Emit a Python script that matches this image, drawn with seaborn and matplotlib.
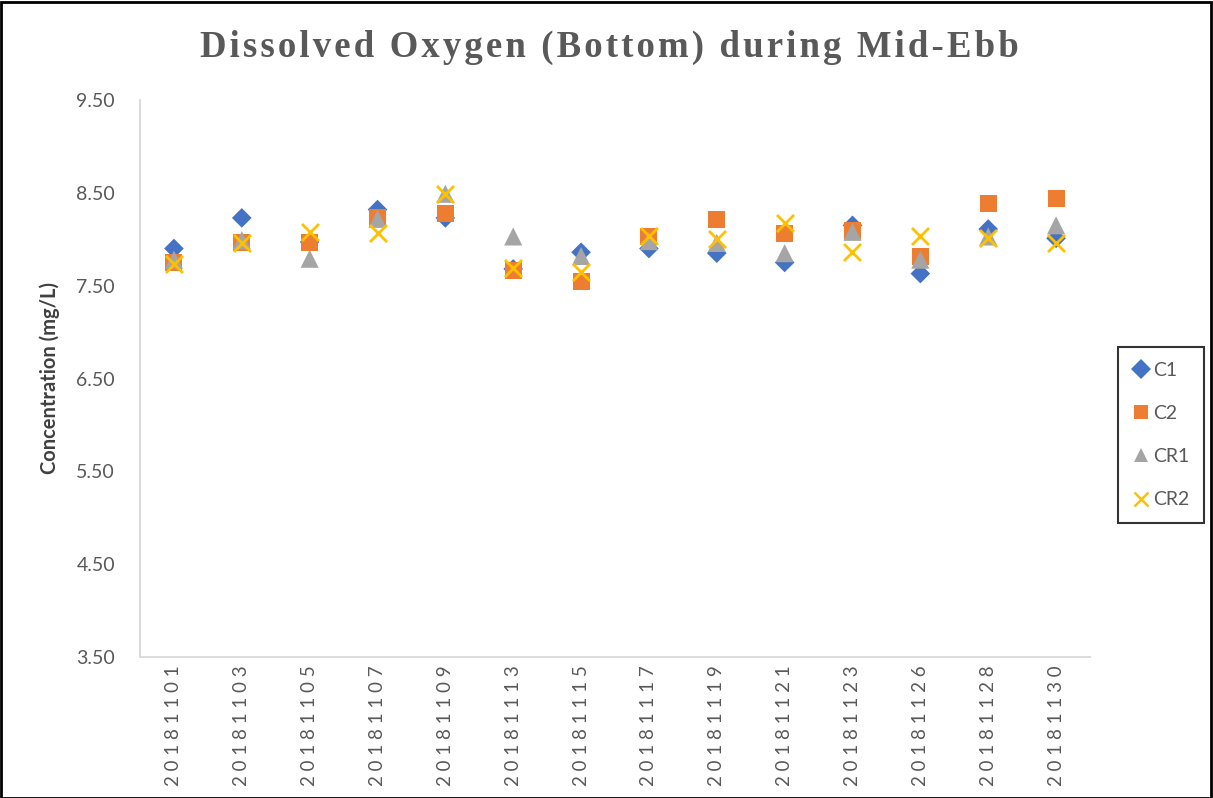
import matplotlib
matplotlib.use("Agg")
import matplotlib.pyplot as plt
import seaborn as sns
import pandas as pd
from matplotlib.lines import Line2D
from matplotlib.patches import Rectangle

dates = ["20181101", "20181103", "20181105", "20181107", "20181109", "20181113", "20181115",
         "20181117", "20181119", "20181121", "20181123", "20181126", "20181128", "20181130"]
c1 = [7.90, 8.23, 7.97, 8.32, 8.23, 7.68, 7.86, 7.90, 7.85, 7.75, 8.15, 7.63, 8.11, 8.01]
c2 = [7.75, 7.96, 7.97, 8.23, 8.28, 7.66, 7.54, 8.03, 8.21, 8.06, 8.09, 7.81, 8.39, 8.44]
cr1 = [7.78, 7.99, 7.79, 8.22, 8.49, 8.03, 7.82, 7.98, 7.96, 7.85, 8.08, 7.78, 8.03, 8.15]
cr2 = [7.73, 7.96, 8.08, 8.07, 8.49, 7.69, 7.65, 8.03, 8.00, 8.17, 7.86, 8.03, 8.01, 7.96]
series_names = ["C1", "C2", "CR1", "CR2"]
yticks = [3.5, 4.5, 5.5, 6.5, 7.5, 8.5, 9.5]
title = "Dissolved Oxygen (Bottom) during Mid-Ebb"

colors = {"C1": "#4472C4", "C2": "#ED7D31", "CR1": "#A5A5A5", "CR2": "#FFC000"}
markers = {"C1": "D", "C2": "s", "CR1": "^", "CR2": "x"}
sizes = {"C1": 100, "C2": 150, "CR1": 170, "CR2": 150}

sns.set_style("white")
plt.rcParams["font.family"] = ["Lato", "DejaVu Sans"]

fig = plt.figure(figsize=(12.13, 7.98), dpi=100)
ax = fig.add_axes([140 / 1213, 1 - 657 / 798, 950 / 1213, 557 / 798])

values = {"C1": c1, "C2": c2, "CR1": cr1, "CR2": cr2}
for name in series_names:
    df = pd.DataFrame({"date": dates, "value": values[name]})
    if markers[name] == "x":
        sns.scatterplot(data=df, x="date", y="value", ax=ax, marker="x", s=sizes[name],
                        color=colors[name], linewidth=2.0, zorder=3)
    else:
        sns.scatterplot(data=df, x="date", y="value", ax=ax, marker=markers[name], s=sizes[name],
                        color=colors[name], edgecolor="none", linewidth=0, zorder=3)

ax.set_xlim(-0.5, len(dates) - 0.5)
ax.set_ylim(3.5, 9.5)
ax.set_yticks(yticks)
ax.set_yticklabels([f"{v:.2f}" for v in yticks], fontsize=14, color="#595959")
ax.set_xticks(range(len(dates)))
ax.set_xticklabels([" ".join(d) for d in dates], rotation=90, fontsize=13.5, color="#595959")
ax.tick_params(axis="y", length=0, pad=18)
ax.tick_params(axis="x", length=0, pad=6)
ax.set_xlabel("")
ax.set_ylabel("Concentration (mg/L)", fontsize=14.5, fontweight="bold", color="#404040", labelpad=12)
for side in ["top", "right"]:
    ax.spines[side].set_visible(False)
for side in ["left", "bottom"]:
    ax.spines[side].set_color("#D9D9D9")
    ax.spines[side].set_linewidth(1.3)
ax.grid(False)

fig.text(609 / 1213, 1 - 47 / 798, "\u200a".join(title),
         ha="center", va="center", fontsize=26.5, fontweight="bold", color="#595959",
         family=["Liberation Serif", "DejaVu Serif"])

handles = [Line2D([], [], linestyle="none", marker=markers[n], color=colors[n],
                  markerfacecolor=colors[n], markeredgecolor=colors[n] if n == "CR2" else "none",
                  markersize=10, markeredgewidth=1.8 if n == "CR2" else 0)
           for n in series_names]
leg = ax.legend(handles, series_names, loc="center left",
                bbox_to_anchor=(1118 / 1213, 1 - 435 / 798), bbox_transform=fig.transFigure,
                borderaxespad=0, frameon=True, fontsize=14, labelspacing=1.35, handletextpad=0.15,
                handlelength=0.9, borderpad=0.75, fancybox=False, labelcolor="#595959")
leg.get_frame().set_edgecolor("black")
leg.get_frame().set_linewidth(1.5)

fig.patches.append(Rectangle((0.001, 0.0), 0.997, 0.998, transform=fig.transFigure,
                             fill=False, edgecolor="black", linewidth=2))

fig.savefig("out.png", dpi=100)
